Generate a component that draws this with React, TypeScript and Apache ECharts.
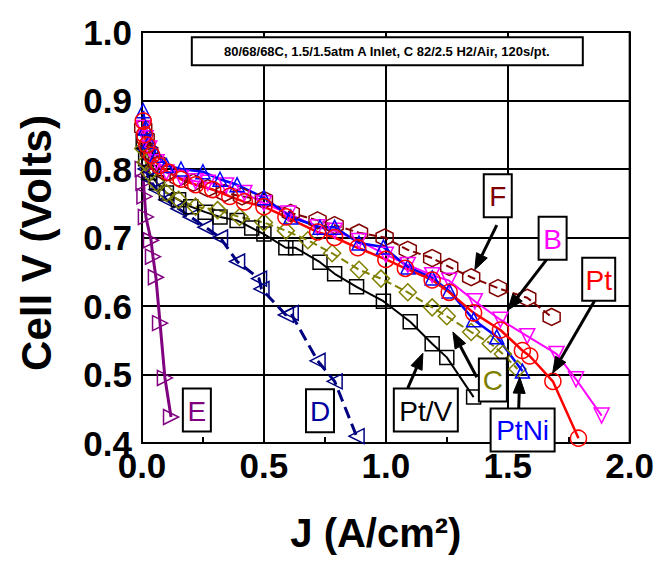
import React, { useEffect, useRef } from "react";
import * as echarts from "echarts";

// ---- data (J in A/cm2, V in volts) ----
const J_E = [0.003, 0.006, 0.01, 0.016, 0.037, 0.045, 0.057, 0.074, 0.094, 0.119];
const V_E = [0.80, 0.78, 0.76, 0.73, 0.696, 0.672, 0.642, 0.575, 0.495, 0.438];

const J_D = [0.005, 0.015, 0.03, 0.06, 0.1, 0.15, 0.2, 0.26, 0.32, 0.39, 0.48, 0.49, 0.59, 0.61, 0.72, 0.79, 0.88];
const V_D = [0.83, 0.8, 0.785, 0.77, 0.755, 0.742, 0.73, 0.715, 0.7, 0.665, 0.64, 0.625, 0.587, 0.59, 0.52, 0.49, 0.41];

const J_PtV = [0.005, 0.015, 0.03, 0.06, 0.1, 0.15, 0.2, 0.26, 0.32, 0.39, 0.45, 0.5, 0.59, 0.63, 0.73, 0.79, 0.88, 0.99, 1.1, 1.19, 1.25, 1.36];
const V_PtV = [0.84, 0.815, 0.795, 0.78, 0.765, 0.755, 0.745, 0.737, 0.73, 0.725, 0.714, 0.705, 0.685, 0.685, 0.664, 0.647, 0.628, 0.607, 0.577, 0.545, 0.525, 0.467];

const J_C = [0.005, 0.015, 0.03, 0.06, 0.1, 0.15, 0.22, 0.31, 0.4, 0.5, 0.59, 0.68, 0.78, 0.89, 0.98, 1.09, 1.19, 1.25, 1.35, 1.43, 1.48, 1.54];
const V_C = [0.83, 0.81, 0.795, 0.78, 0.765, 0.755, 0.745, 0.74, 0.73, 0.722, 0.71, 0.696, 0.677, 0.653, 0.64, 0.62, 0.598, 0.585, 0.562, 0.545, 0.53, 0.508];

const J_F = [0.005, 0.015, 0.03, 0.06, 0.1, 0.15, 0.21, 0.27, 0.34, 0.41, 0.5, 0.61, 0.72, 0.79, 0.89, 0.995, 1.09, 1.19, 1.26, 1.35, 1.46, 1.58, 1.68];
const V_F = [0.86, 0.845, 0.825, 0.81, 0.795, 0.787, 0.78, 0.772, 0.765, 0.76, 0.755, 0.736, 0.725, 0.718, 0.707, 0.7, 0.682, 0.67, 0.657, 0.642, 0.626, 0.612, 0.584];

const J_B = [0.005, 0.015, 0.03, 0.06, 0.1, 0.16, 0.22, 0.27, 0.345, 0.42, 0.5, 0.6, 0.72, 0.79, 0.89, 1.0, 1.09, 1.19, 1.26, 1.365, 1.47, 1.58, 1.7, 1.78, 1.885];
const V_B = [0.86, 0.845, 0.83, 0.81, 0.795, 0.787, 0.782, 0.78, 0.776, 0.765, 0.75, 0.735, 0.715, 0.71, 0.695, 0.675, 0.66, 0.645, 0.637, 0.607, 0.58, 0.556, 0.53, 0.493, 0.44];

const J_PtNi = [0.005, 0.015, 0.03, 0.06, 0.1, 0.16, 0.25, 0.32, 0.39, 0.5, 0.61, 0.73, 0.79, 0.89, 0.99, 1.09, 1.19, 1.26, 1.36, 1.455, 1.56];
const V_PtNi = [0.885, 0.86, 0.84, 0.82, 0.805, 0.8, 0.796, 0.785, 0.777, 0.758, 0.73, 0.715, 0.715, 0.692, 0.686, 0.657, 0.641, 0.622, 0.58, 0.555, 0.505];

const J_Pt = [0.005, 0.01, 0.02, 0.04, 0.07, 0.11, 0.16, 0.22, 0.29, 0.36, 0.42, 0.5, 0.59, 0.72, 0.79, 0.885, 1.0, 1.08, 1.19, 1.26, 1.36, 1.47, 1.56, 1.59, 1.685, 1.79];
const V_Pt = [0.87, 0.85, 0.835, 0.82, 0.805, 0.795, 0.785, 0.777, 0.77, 0.76, 0.752, 0.745, 0.73, 0.708, 0.7, 0.685, 0.668, 0.655, 0.638, 0.62, 0.59, 0.565, 0.535, 0.527, 0.49, 0.407];

const X_TICKS = [0, 0.5, 1.0, 1.5, 2.0];
const Y_TICKS = [0.4, 0.5, 0.6, 0.7, 0.8, 0.9, 1.0];

const TITLE = "80/68/68C, 1.5/1.5atm A Inlet, C 82/2.5 H2/Air, 120s/pt.";

// label annotations: text, box centre (data coords), arrow tail & tip (data coords)
const LABEL_TEXT = ["F", "B", "Pt", "C", "PtNi", "Pt/V", "E", "D"];
const LABEL_COLOR = ["#800000", "#FF00FF", "#FF0000", "#808000", "#0000FF", "#000000", "#800080", "#0000A0"];
const LABEL_POS = [[1.459, 0.761], [1.684, 0.699], [1.873, 0.639], [1.439, 0.492], [1.561, 0.419], [1.164, 0.448], [0.225, 0.448], [0.73, 0.447]];
const ARROW_FROM = [[1.455, 0.718], [1.664, 0.67], [1.865, 0.613], [1.373, 0.496], [1.545, 0.451], [1.09, 0.48], null, null];
const ARROW_TO = [[1.365, 0.653], [1.5, 0.594], [1.684, 0.502], [1.275, 0.562], [1.549, 0.496], [1.152, 0.531], null, null];

const zip = (a: number[], b: number[]) => a.map((x, i) => [x, b[i]]);

const HEX = "path://M10,0 L18.66,5 L18.66,15 L10,20 L1.34,15 L1.34,5 Z";

const FONT = "Liberation Sans, Arial, sans-serif";

function mkSeries(name: string, J: number[], V: number[], color: string, symbol: string, size: number, rot: number, lineType: any, lw: number) {
  return {
    name,
    type: "line",
    data: zip(J, V),
    symbol,
    symbolSize: size,
    symbolRotate: rot,
    showAllSymbol: true,
    lineStyle: { color, width: lw, type: lineType },
    itemStyle: { color: "rgba(255,255,255,0)", borderColor: color, borderWidth: 1.5 },
    emphasis: { disabled: true },
    z: 3,
  };
}

export default function App() {
  const ref = useRef<HTMLDivElement>(null);
  useEffect(() => {
    if (!ref.current) return;
    const chart = echarts.init(ref.current, undefined, { renderer: "svg" });
    const option: any = {
      animation: false,
      backgroundColor: "#fff",
      grid: { left: 142, right: 27, top: 32, bottom: 121, show: true, borderColor: "#000", borderWidth: 2, backgroundColor: "#fff" },
      xAxis: {
        type: "value",
        min: X_TICKS[0],
        max: X_TICKS[X_TICKS.length - 1],
        interval: 0.5,
        axisLine: { show: true, lineStyle: { color: "#000", width: 2 } },
        axisTick: { show: true, inside: true, length: 6, lineStyle: { color: "#000", width: 2 } },
        minorTick: { show: true, splitNumber: 2, length: 6, lineStyle: { color: "#000", width: 2 } },
        splitLine: { show: true, lineStyle: { color: "#000", width: 2 } },
        axisLabel: { color: "#000", fontSize: 35, lineHeight: 26, fontWeight: "bold", fontFamily: FONT, margin: 9, formatter: (v: number) => v.toFixed(1) },
      },
      yAxis: {
        type: "value",
        min: Y_TICKS[0],
        max: Y_TICKS[Y_TICKS.length - 1],
        interval: 0.1,
        axisLine: { show: true, lineStyle: { color: "#000", width: 2 } },
        axisTick: { show: false },
        splitLine: { show: true, lineStyle: { color: "#000", width: 2 } },
        axisLabel: { color: "#000", fontSize: 35, lineHeight: 26, fontWeight: "bold", fontFamily: FONT, margin: 10, formatter: (v: number) => v.toFixed(1) },
      },
      series: [
        mkSeries("E", J_E, V_E, "#800080", "triangle", 15, -90, "solid", 3),
        mkSeries("D", J_D, V_D, "#000080", "triangle", 15, 90, "dashed", 3),
        mkSeries("Pt/V", J_PtV, V_PtV, "#000000", "rect", 14, 0, "solid", 2),
        mkSeries("C", J_C, V_C, "#808000", "diamond", 17, 0, "dashed", 2),
        mkSeries("F", J_F, V_F, "#800000", HEX, 17, 0, "dashed", 2),
        mkSeries("B", J_B, V_B, "#FF00FF", "triangle", 15, 180, "solid", 2),
        mkSeries("PtNi", J_PtNi, V_PtNi, "#0000FF", "triangle", 14, 0, "solid", 2.5),
        mkSeries("Pt", J_Pt, V_Pt, "#FF0000", "circle", 16, 0, "solid", 2.5),
      ],
    };
    chart.setOption(option);

    const px = (p: number[]) => chart.convertToPixel({ gridIndex: 0 }, p) as number[];
    const graphics: any[] = [];

    // title box
    const tc = px([1.004, 0.972]);
    graphics.push({
      type: "rect", z: 50, shape: { x: tc[0] - 195, y: tc[1] - 14, width: 391, height: 28 },
      style: { fill: "#fff", stroke: "#000", lineWidth: 2 },
    });
    graphics.push({
      type: "text", z: 51, x: tc[0], y: tc[1],
      style: { text: TITLE, fill: "#000", font: `bold 13px ${FONT}`, align: "center", verticalAlign: "middle" },
    });

    // arrows
    LABEL_TEXT.forEach((_, i) => {
      const a = ARROW_FROM[i];
      const b = ARROW_TO[i];
      if (!a || !b) return;
      const p0 = px(a);
      const p1 = px(b);
      const dx = p1[0] - p0[0];
      const dy = p1[1] - p0[1];
      const L = Math.hypot(dx, dy);
      const ux = dx / L, uy = dy / L;
      const hl = 16, hw = 6;
      const bx = p1[0] - ux * hl, by = p1[1] - uy * hl;
      graphics.push({
        type: "line", z: 40,
        shape: { x1: p0[0], y1: p0[1], x2: bx, y2: by },
        style: { stroke: "#000", lineWidth: 3 },
      });
      graphics.push({
        type: "polygon", z: 40,
        shape: { points: [[p1[0], p1[1]], [bx - uy * hw, by + ux * hw], [bx + uy * hw, by - ux * hw]] },
        style: { fill: "#000", stroke: "#000", lineWidth: 1 },
      });
    });

    // label boxes
    LABEL_TEXT.forEach((t, i) => {
      const c = px(LABEL_POS[i]);
      const w = t.length <= 1 ? 28 : t.length === 2 ? 33 : 64;
      const h = 43;
      graphics.push({
        type: "rect", z: 45, shape: { x: c[0] - w / 2, y: c[1] - h / 2, width: w, height: h },
        style: { fill: "#fff", stroke: "#000", lineWidth: 2 },
      });
      graphics.push({
        type: "text", z: 46, x: c[0], y: c[1] + 1,
        style: { text: t, fill: LABEL_COLOR[i], font: `28px ${FONT}`, align: "center", verticalAlign: "middle" },
      });
    });

    // axis titles
    const gc = px([1.0, 0.7]);
    graphics.push({
      type: "text", z: 60, x: 36, y: 243, rotation: Math.PI / 2,
      style: { text: "Cell V (Volts)", fill: "#000", font: `bold 42px ${FONT}`, align: "center", verticalAlign: "middle" },
    });
    graphics.push({
      type: "text", z: 60, x: gc[0] - 10, y: 533,
      style: { text: "J (A/cm²)", fill: "#000", font: `bold 40px ${FONT}`, align: "center", verticalAlign: "middle" },
    });

    chart.setOption({ graphic: graphics });
    return () => chart.dispose();
  }, []);
  return <div ref={ref} style={{ position: "fixed", left: 0, top: 0, width: 657, height: 564 }} />;
}
